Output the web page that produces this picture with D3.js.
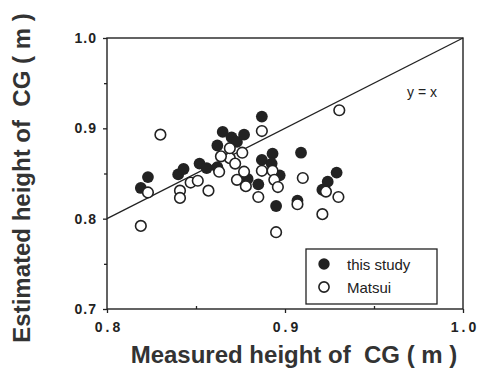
<!DOCTYPE html>
<html>
<head>
<meta charset="utf-8">
<script src="https://cdn.jsdelivr.net/npm/d3@7"></script>
<style>
  body { margin: 0; background: #fff; }
  svg { display: block; font-family: "Liberation Sans", Arial, sans-serif; }
</style>
</head>
<body>
<svg id="chart" width="492" height="374"></svg>
<script>
// measured vs estimated CG height (m)
const thisStudy = [
  [0.819, 0.834], [0.823, 0.846], [0.840, 0.849], [0.843, 0.855], [0.852, 0.861],
  [0.856, 0.856], [0.862, 0.881], [0.862, 0.857], [0.865, 0.896], [0.870, 0.890],
  [0.873, 0.885], [0.877, 0.893], [0.887, 0.913], [0.887, 0.865], [0.893, 0.872],
  [0.8925, 0.861], [0.897, 0.848], [0.879, 0.844], [0.885, 0.838], [0.895, 0.814],
  [0.909, 0.873], [0.929, 0.851], [0.924, 0.841], [0.921, 0.832], [0.907, 0.820]
];
const matsui = [
  [0.830, 0.893], [0.823, 0.829], [0.819, 0.792], [0.841, 0.831], [0.841, 0.823],
  [0.847, 0.840], [0.851, 0.842], [0.857, 0.831], [0.863, 0.852], [0.869, 0.867],
  [0.872, 0.861], [0.873, 0.843], [0.877, 0.852], [0.878, 0.836], [0.885, 0.824],
  [0.887, 0.853], [0.893, 0.853], [0.894, 0.843], [0.896, 0.835], [0.895, 0.785],
  [0.887, 0.897], [0.869, 0.878], [0.876, 0.873], [0.864, 0.869], [0.910, 0.845],
  [0.907, 0.816], [0.923, 0.830], [0.930, 0.824], [0.921, 0.805], [0.9305, 0.920]
];
const xTicks = [0.8, 0.9, 1.0], xMinor = [0.85, 0.95];
const yTicks = [0.7, 0.8, 0.9, 1.0], yMinor = [0.75, 0.85, 0.95];
const legendItems = [{ name: "this study", filled: true }, { name: "Matsui", filled: false }];

const INK = "#222";
const svg = d3.select("#chart");
const L = 107, R = 463, T = 38, B = 309;
const x = d3.scaleLinear().domain([0.8, 1.0]).range([L, R]);
const y = d3.scaleLinear().domain([0.7, 1.0]).range([B, T]);
const fmt = d3.format(".1f");

// frame
svg.append("rect").attr("x", L).attr("y", T).attr("width", R - L).attr("height", B - T)
  .attr("fill", "none").attr("stroke", INK).attr("stroke-width", 1.4);

// axes
const gx = svg.append("g").attr("transform", `translate(0,${B})`)
  .call(d3.axisBottom(x).tickValues(xTicks).tickFormat(fmt).tickSize(4).tickPadding(9));
const gxm = svg.append("g").attr("transform", `translate(0,${B})`)
  .call(d3.axisBottom(x).tickValues(xMinor).tickFormat("").tickSize(-3));
const gy = svg.append("g").attr("transform", `translate(${L},0)`)
  .call(d3.axisLeft(y).tickValues(yTicks).tickFormat(fmt).tickSize(4).tickPadding(6));
const gym = svg.append("g").attr("transform", `translate(${L},0)`)
  .call(d3.axisLeft(y).tickValues(yMinor).tickFormat("").tickSize(3));
[gx, gxm, gy, gym].forEach((g) => {
  g.select(".domain").remove();
  g.selectAll("line").attr("stroke", INK).attr("stroke-width", 1.3);
  g.selectAll("text").attr("fill", INK).attr("font-size", 14).attr("font-weight", "bold")
    .attr("font-family", "'Liberation Sans', Arial, sans-serif");
});
gx.selectAll("text").attr("letter-spacing", 3).attr("dx", 1.5);
gy.selectAll("text").attr("letter-spacing", 1);

// y = x reference line
const clip = [0.8, 1.0];
svg.append("line").attr("x1", x(clip[0])).attr("y1", y(clip[0])).attr("x2", x(clip[1])).attr("y2", y(clip[1]))
  .attr("stroke", INK).attr("stroke-width", 1.3);
svg.append("text").attr("x", 422).attr("y", 97).attr("text-anchor", "middle")
  .attr("font-size", 14).attr("fill", INK).style("white-space", "pre").text("y = x");

// points: filled first, open circles drawn on top
const r = 5.3;
svg.append("g").selectAll("circle").data(thisStudy).join("circle")
  .attr("cx", (d) => x(d[0])).attr("cy", (d) => y(d[1])).attr("r", r + 0.6).attr("fill", INK);
svg.append("g").selectAll("circle").data(matsui).join("circle")
  .attr("cx", (d) => x(d[0])).attr("cy", (d) => y(d[1])).attr("r", r)
  .attr("fill", "#fff").attr("stroke", INK).attr("stroke-width", 1.6);

// legend
const lg = svg.append("g");
lg.append("rect").attr("x", 306).attr("y", 249).attr("width", 131).attr("height", 55)
  .attr("fill", "#fff").attr("stroke", INK).attr("stroke-width", 1.3);
legendItems.forEach((it, i) => {
  const cy = 264 + i * 23;
  lg.append("circle").attr("cx", 324).attr("cy", cy).attr("r", it.filled ? r + 0.4 : r - 0.2)
    .attr("fill", it.filled ? INK : "#fff").attr("stroke", INK).attr("stroke-width", it.filled ? 0 : 1.6);
  lg.append("text").attr("x", 347).attr("y", cy + 5.5).attr("font-size", 15).attr("fill", INK).text(it.name);
});

// axis titles
svg.append("text").attr("x", 294).attr("y", 363).attr("text-anchor", "middle")
  .attr("font-size", 24).attr("font-weight", "bold").attr("fill", "#333").style("white-space", "pre")
  .text("Measured height of  CG ( m )");
svg.append("text").attr("transform", "translate(30,178) rotate(-90)").attr("text-anchor", "middle")
  .attr("font-size", 24).attr("font-weight", "bold").attr("fill", "#333").style("white-space", "pre")
  .text("Estimated height of  CG ( m )");
</script>
</body>
</html>
